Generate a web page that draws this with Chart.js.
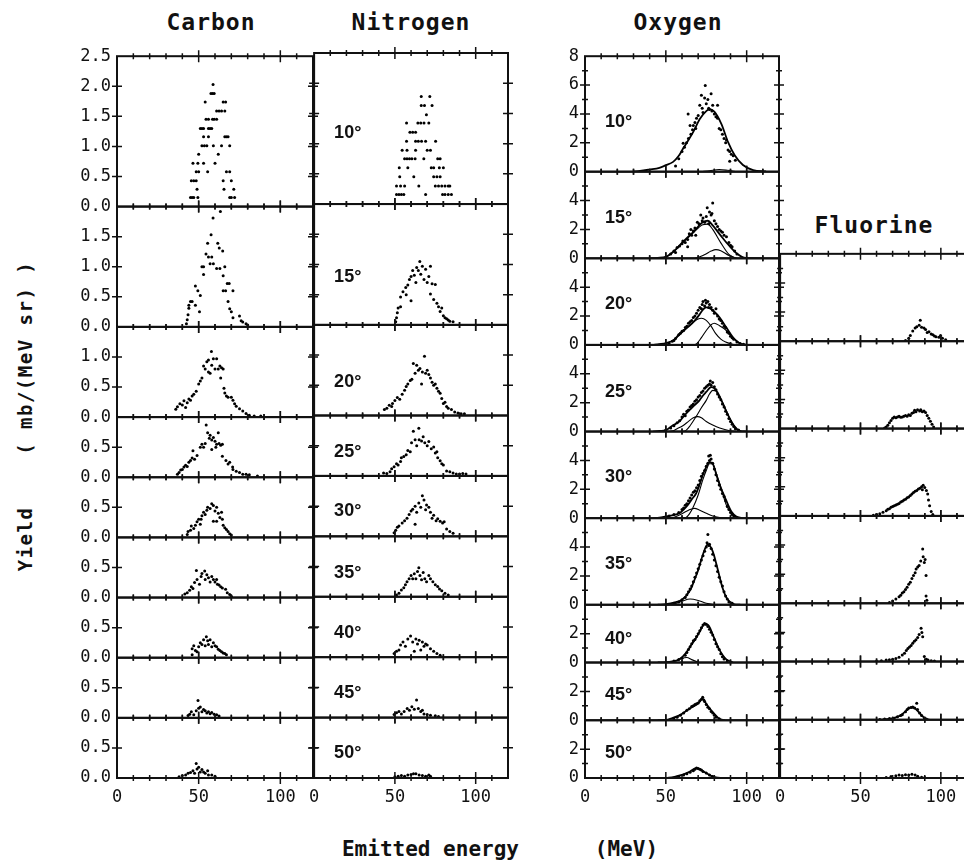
<!DOCTYPE html>
<html>
<head>
<meta charset="utf-8">
<script src="https://cdn.jsdelivr.net/npm/chart.js@4.4.1/dist/chart.umd.min.js"></script>
<style>
  body { margin: 0; width: 964px; height: 865px; overflow: hidden; background: #fff; position: relative; }
  .box { position: absolute; }
  .label { position: absolute; font: bold 23px "DejaVu Sans Mono", monospace; color: #111; white-space: pre; text-align: center; line-height: 26px; letter-spacing: 1px; }
</style>
</head>
<body>
<div class="label" style="left:111px; top:9px; width:200px;">Carbon</div>
<div class="label" style="left:311px; top:9px; width:200px;">Nitrogen</div>
<div class="label" style="left:578px; top:9px; width:200px;">Oxygen</div>
<div class="label" style="left:774px; top:212px; width:200px;">Fluorine</div>
<div class="label" style="left:-175px; top:403px; width:400px; font-size:19px; letter-spacing:1.5px; transform:rotate(-90deg);">Yield    ( mb/(MeV sr) )</div>
<div class="label" style="left:290px; top:836px; width:420px; font-size:21px; letter-spacing:0;">Emitted energy      (MeV)</div>

<div class="box" style="left:0; top:40px;"><canvas id="carbon" width="320" height="770"></canvas></div>
<div class="box" style="left:300px; top:40px;"><canvas id="nitrogen" width="220" height="770"></canvas></div>
<div class="box" style="left:530px; top:40px;"><canvas id="oxygen" width="260" height="770"></canvas></div>
<div class="box" style="left:766px; top:240px;"><canvas id="fluorine" width="220" height="570"></canvas></div>

<script>
// --- Datos: [energía MeV, rendimiento mb/(MeV sr)] ---
const angles = ['10°', '15°', '20°', '25°', '30°', '35°', '40°', '45°', '50°'];
const carbonMax = [2.5, 2, 1.5, 1, 1, 1, 1, 1, 1];
const nitrogenMax = [2.5, 2, 1.5, 1, 1, 1, 1, 1, 1];
const oxygenMax = [8, 6, 6, 6, 6, 6, 4, 4, 4];
const fluorineMax = [6, 6, 6, 6, 4, 4, 4];
const xTicks = [0, 50, 100];

const carbon10 = [[45,0.15],[46,0.15],[47,0.15],[49.5,0.15],[69,0.15],[70,0.15],[72,0.15],[49,0.29],[65.5,0.29],[71.5,0.29],
  [45.5,0.43],[47,0.43],[48.5,0.43],[65,0.43],[70,0.43],[48.5,0.58],[50,0.58],[55.5,0.58],[67,0.58],[69,0.58],
  [46.5,0.72],[49.5,0.72],[53,0.72],[60,0.72],[50,0.87],[62,0.87],[52,1.01],[53.5,1.01],[55,1.01],[59,1.01],[64,1.01],[69,1.01],
  [53,1.16],[56,1.16],[66,1.16],[67,1.16],[68,1.16],[51,1.30],[52,1.30],[53,1.30],[56,1.30],[57,1.30],[58,1.30],
  [54.5,1.45],[56,1.45],[58.5,1.45],[59.5,1.45],[61,1.45],[61,1.59],[62.5,1.59],[64,1.59],[66,1.59],
  [54,1.74],[65,1.74],[66.5,1.74],[57.5,1.88],[58.5,1.88],[59.5,1.88],[58.8,2.03]];
const carbon15 = [[42.5,0.05],[43,0.12],[43.5,0.2],[44,0.31],[44,0.36],[45,0.42],[46,0.42],[48,0.36],[48,0.68],[49.5,0.6],[50.5,0.25],
  [51,0.52],[52,1.0],[53,1.0],[53,0.87],[54.5,1.21],[55.5,1.39],[56,1.16],[57,1.05],[57.6,1.53],[58,1.16],[58.8,1.81],[59,1.05],
  [61,0.97],[61.7,1.39],[62.6,1.31],[63.3,1.92],[63,0.97],[64.7,1.26],[65,0.85],[65,0.6],[66,1.0],[66.5,0.6],[67.5,0.72],[68,0.42],
  [68.7,0.72],[69,0.3],[70,0.25],[71,0.6],[71,0.15],[75,0.18],[76,0.1],[77,0.08],[79,0.05],[80,0.03]];
const carbon20 = [[36,0.13],[37,0.17],[38.5,0.22],[40,0.2],[41,0.27],[42,0.16],[43,0.24],[44,0.3],[45,0.28],[46,0.35],[47,0.38],
  [48.5,0.43],[50,0.55],[51,0.6],[52,0.65],[53,0.85],[54,0.8],[55,0.92],[56,0.95],[56,0.75],[57,0.73],[57.8,1.09],[58,0.86],
  [59,0.97],[60,0.8],[61,0.97],[62,0.8],[63,0.85],[63.5,0.65],[64,0.82],[65,0.8],[65.5,0.48],[66,0.4],[67,0.35],[68,0.33],
  [70,0.33],[71,0.28],[72,0.22],[73,0.18],[75,0.14],[77,0.1],[79,0.06],[81,0.03],[84,0.02],[88,0.02]];
const carbon25 = [[37,0.05],[38,0.08],[39,0.12],[40,0.13],[41,0.17],[42,0.2],[43,0.18],[44,0.25],[45,0.28],[46,0.32],[46.5,0.44],
  [47.5,0.3],[49,0.36],[51,0.5],[52,0.55],[53,0.5],[54,0.56],[54.6,0.87],[55.5,0.74],[56.5,0.65],[57,0.7],[58,0.62],[58,0.46],
  [59,0.66],[60,0.6],[60.5,0.5],[61,0.55],[62,0.74],[62.5,0.56],[63.5,0.53],[64.5,0.55],[64.5,0.35],[66.7,0.28],[68,0.22],
  [69,0.25],[70.8,0.17],[71,0.13],[73,0.1],[75,0.08],[77,0.05],[79,0.05],[81,0.04],[86,0.02]];
const carbon30 = [[43,0.05],[43.5,0.1],[45,0.12],[45.5,0.19],[47,0.15],[48,0.2],[49,0.26],[50,0.3],[51,0.22],[51.5,0.3],[52,0.36],
  [53,0.42],[54,0.38],[55,0.45],[55.5,0.5],[57,0.48],[58,0.56],[59,0.53],[59,0.27],[60,0.44],[61,0.5],[61,0.27],[62,0.4],
  [63,0.33],[64,0.42],[64.5,0.3],[65,0.2],[66,0.16],[67,0.13],[68,0.1],[69,0.06],[70,0.04]];
const carbon35 = [[41.5,0.06],[43,0.08],[44.5,0.12],[45.5,0.18],[46.5,0.15],[47.5,0.25],[48.6,0.45],[49,0.3],[50.5,0.22],[51.5,0.35],
  [52,0.4],[53.7,0.44],[54,0.3],[55,0.38],[56,0.33],[57,0.26],[58,0.35],[59,0.3],[60,0.26],[61,0.3],[61.5,0.22],[62.5,0.21],
  [63.5,0.18],[64.5,0.16],[66.5,0.14],[67.5,0.08],[69,0.05],[70,0.02]];
const carbon40 = [[46,0.05],[46,0.15],[47,0.2],[48,0.12],[49,0.1],[50,0.18],[51,0.25],[52,0.22],[53,0.3],[54,0.2],[54.7,0.35],
  [55.5,0.28],[56,0.22],[57,0.3],[58,0.18],[59,0.25],[60,0.2],[61,0.18],[62,0.14],[63,0.12],[64,0.1],[65,0.08],[66,0.07],[67,0.05]];
const carbon45 = [[43.5,0.04],[44.5,0.06],[45.5,0.1],[47,0.05],[48.5,0.12],[49.6,0.29],[50,0.16],[51,0.18],[52,0.1],[53,0.14],
  [54,0.12],[55,0.08],[56,0.1],[57,0.07],[58,0.09],[59.5,0.06],[61,0.05],[62.5,0.03]];
const carbon50 = [[38,0.02],[40,0.04],[42,0.05],[43.5,0.08],[45,0.09],[46.5,0.12],[47.5,0.08],[48.5,0.24],[49,0.15],[50,0.18],
  [51,0.1],[52,0.14],[53,0.1],[54,0.08],[55.5,0.12],[56,0.05],[58,0.05],[60,0.03]];

const nitrogen10 = [[51,0.16],[52.5,0.16],[54,0.16],[55.5,0.16],[69,0.16],[79.5,0.16],[81,0.16],[83,0.16],[85,0.16],
  [51,0.3],[53.5,0.3],[56,0.3],[64.8,0.3],[75,0.3],[77,0.3],[79,0.3],[81,0.3],[83,0.3],[84,0.3],
  [53,0.45],[61.7,0.45],[74,0.45],[76,0.45],[78,0.45],[52.7,0.6],[58,0.6],[72.5,0.6],[74,0.6],[77.5,0.6],[80,0.6],
  [56,0.75],[57.5,0.75],[59,0.75],[60.5,0.75],[62.5,0.75],[67.9,0.75],[76.5,0.75],[78,0.75],
  [54.5,0.89],[57.5,0.89],[62.8,0.89],[70,0.89],[72,0.89],[57.2,1.04],[62.8,1.04],[64.5,1.04],[66.5,1.04],[69,1.04],[75.2,1.04],
  [59.3,1.19],[61,1.19],[62.8,1.19],[57.2,1.34],[64.2,1.34],[66,1.34],[68,1.34],[71,1.34],[69.5,1.48],
  [66.3,1.63],[68.3,1.63],[73,1.63],[66.3,1.78],[71.6,1.78]];
const nitrogen15 = [[50.5,0.05],[51,0.12],[51.5,0.2],[52,0.28],[53.5,0.3],[53.5,0.46],[55,0.55],[56.7,0.62],[57,0.5],[58,0.66],
  [59,0.75],[60,0.4],[60,0.8],[61,0.9],[62,0.82],[63,0.7],[63.5,0.95],[64.5,0.9],[65.4,1.05],[66,0.84],[67,0.97],[68,0.75],
  [69,0.92],[70,0.7],[71,0.8],[72,0.97],[72,0.51],[73,0.68],[74,0.42],[75,0.67],[76,0.36],[77,0.3],[78,0.22],[79,0.28],
  [80,0.15],[81,0.12],[82,0.1],[83,0.08],[84,0.06],[86,0.05]];
const nitrogen20 = [[43.5,0.1],[45,0.12],[46.5,0.17],[48,0.15],[48.5,0.2],[50,0.25],[51.5,0.3],[53,0.27],[54.5,0.35],[56,0.42],
  [57,0.48],[58,0.52],[59.5,0.58],[60.5,0.6],[61.4,0.86],[62.5,0.7],[63.5,0.83],[64.5,0.75],[65.5,0.78],[66.5,0.52],[67,0.72],
  [68.3,0.98],[69,0.7],[70,0.75],[71,0.68],[72,0.62],[73,0.55],[74,0.5],[75,0.52],[76,0.45],[77,0.4],[78,0.37],[79,0.28],
  [80,0.2],[81,0.22],[82,0.15],[83,0.12],[85,0.1],[87,0.06],[89,0.04],[91,0.03],[93,0.03]];
const nitrogen25 = [[43,0.05],[45,0.04],[47,0.07],[48,0.12],[49.5,0.15],[51,0.2],[52,0.18],[53.5,0.24],[54,0.3],[55.5,0.32],
  [57,0.35],[58,0.42],[59.5,0.4],[60.3,0.55],[61.4,0.74],[62.5,0.6],[63.5,0.5],[64.8,0.79],[65,0.6],[66.5,0.58],[67.5,0.65],
  [68.5,0.55],[70,0.5],[71,0.57],[72.5,0.45],[74,0.48],[75,0.38],[76,0.4],[76.5,0.3],[78,0.25],[79,0.2],[80,0.18],[82,0.08],
  [84,0.07],[86,0.05],[88,0.03],[90,0.03],[92,0.04],[94,0.03]];
const nitrogen30 = [[49.5,0.06],[50.5,0.1],[51.5,0.15],[52.5,0.17],[54.5,0.22],[56,0.26],[57.5,0.3],[58.8,0.36],[60,0.42],[61,0.45],
  [62.5,0.2],[62.5,0.5],[63.5,0.4],[64.8,0.55],[66,0.48],[67,0.67],[68,0.6],[69,0.44],[69.6,0.52],[71,0.48],[72,0.4],[73,0.3],
  [74,0.35],[75.5,0.26],[76.5,0.29],[78,0.25],[79.5,0.22],[80.5,0.24],[82,0.12],[84,0.08],[86,0.05]];
const nitrogen35 = [[51,0.03],[52.5,0.06],[54,0.11],[55.5,0.15],[56.5,0.2],[57.5,0.25],[58.8,0.3],[60,0.35],[61,0.3],[62,0.38],
  [63,0.3],[64,0.42],[64.8,0.48],[65.5,0.35],[66.5,0.28],[67.5,0.4],[68.5,0.3],[69.6,0.25],[71,0.35],[72,0.3],[73.5,0.25],
  [75,0.2],[76.5,0.17],[77.6,0.13],[79,0.1],[81,0.06],[83,0.03]];
const nitrogen40 = [[49.5,0.06],[51,0.1],[52.5,0.12],[53.5,0.2],[55,0.25],[56.5,0.18],[58,0.3],[59.7,0.35],[61,0.25],[62,0.1],
  [63,0.3],[64,0.22],[65,0.28],[66,0.12],[67,0.25],[68,0.18],[69,0.22],[70,0.2],[72,0.14],[74,0.1],[76,0.06],[78,0.03]];
const nitrogen45 = [[49.5,0.05],[51,0.08],[52.5,0.1],[54,0.06],[55.7,0.1],[57.6,0.15],[59,0.12],[60.5,0.18],[62,0.14],[63.4,0.29],
  [64.5,0.15],[66,0.1],[67,0.12],[68,0.06],[70,0.05],[72,0.04],[75,0.03],[77,0.02]];
const nitrogen50 = [[50,0.02],[52,0.03],[54,0.04],[56,0.03],[58,0.05],[60,0.06],[61.5,0.07],[63,0.07],[65,0.05],[67,0.04],
  [69,0.03],[71,0.05],[72,0.03]];

const oxygen10 = [[56,0.4],[58,0.9],[60,1.4],[60.7,1.97],[61.5,1.7],[62.8,2.0],[63.8,3.99],[64,2.3],[65,3.2],[65.5,2.6],[66.5,2.9],
  [67,3.2],[68,3.4],[68.5,3.0],[69,3.7],[70,3.9],[71,4.6],[72,5.3],[72.5,4.4],[73,4.1],[74,5.1],[74.4,5.97],[75,4.7],[76,5.0],
  [76.5,4.4],[77,4.3],[78,5.4],[78.5,4.2],[79,4.6],[80,4.0],[81,3.8],[82,4.6],[82,3.7],[83,3.0],[84,2.9],[85,2.6],[86,2.3],
  [87,2.0],[87.5,2.2],[88.5,1.5],[89.5,1.4],[89.5,0.73],[90.5,1.2],[91.7,1.1],[93,0.8]];
const oxygen10Fit = [[30,0.02],[34,0.05],[40,0.15],[46,0.27],[50,0.45],[54.5,0.68],[58,1.1],[60.7,1.6],[64,2.2],[66.9,2.74],[71,3.65],
  [75,4.2],[77,4.33],[80,4.16],[84.4,3.3],[88.5,2.05],[92.6,1.14],[97.7,0.46],[104,0.11],[112,0.02]];
const oxygen10Low = [[72,0],[77,0.06],[83,0.15],[88,0.1],[94,0]];

const oxygen15 = [[53,0.3],[55,0.5],[56,0.4],[57,0.75],[58.5,0.85],[60,1.0],[60.5,1.2],[62,1.1],[63.5,0.8],[63.5,1.3],[64.5,1.7],
  [65.5,2.0],[66,1.6],[67,1.9],[68,2.1],[68.5,1.6],[69.5,2.5],[70.5,2.4],[71.6,3.0],[72.5,2.6],[73,2.8],[74,2.5],[75,2.9],
  [75.6,3.5],[76.5,2.4],[77,3.2],[78,3.0],[78.5,3.1],[79,3.83],[80,2.6],[81,2.4],[82,2.2],[83,2.0],[84,1.9],[85,1.8],[86,1.6],
  [87.5,1.5],[89,1.1],[90,0.9],[91,0.8],[92.6,0.5],[94,0.3]];
const oxygen15Fit = [[40,0],[45,0.03],[50,0.1],[54,0.4],[58.4,0.87],[62,1.3],[66.6,1.78],[70,2.2],[72.8,2.49],[75.9,2.6],[79,2.28],
  [84,1.57],[89.2,0.87],[94.3,0.3],[99.4,0.03],[110,0]];
const oxygen15A = [[45,0.02],[50,0.08],[54,0.38],[58.4,0.83],[62,1.25],[66.6,1.72],[70,2.1],[72.8,2.33],[75.9,2.37],[79,2.0],
  [84,1.07],[89,0.27],[93,0.02]];
const oxygen15B = [[68,0],[71,0.1],[74.8,0.3],[78,0.5],[81,0.6],[84,0.53],[89,0.2],[94,0]];

const oxygen20 = [[50,0.05],[52,0.1],[54,0.25],[55,0.3],[56,0.45],[58,0.7],[59,0.8],[60,0.95],[61,1.0],[62,1.2],[63,1.3],[64,1.5],
  [65,1.6],[66,1.7],[67,1.9],[68,2.0],[69,2.2],[70,2.4],[71,2.6],[72,2.5],[72.5,2.8],[73,3.0],[74,2.7],[74.5,3.1],[75,2.9],
  [76,3.0],[76.5,2.6],[77,2.8],[78,2.6],[79,2.4],[80,2.2],[81,2.5],[82,2.0],[83,1.8],[84,1.7],[85,1.5],[86,1.3],[87,1.2],
  [88,0.9],[89,0.8],[90,0.6],[91,0.5],[92,0.4],[94,0.2],[96,0.1],[98,0.05]];
const oxygen20Fit = [[42,0],[46,0.05],[50,0.12],[55,0.35],[58.4,0.76],[61,1.0],[64.6,1.32],[68,1.7],[70.8,2.1],[73,2.45],[75,2.6],
  [77,2.55],[80,2.3],[83.3,1.9],[87.4,1.21],[91.5,0.53],[95.6,0.11],[100,0.01]];
const oxygen20A = [[44,0.02],[50,0.1],[55,0.35],[60,0.85],[65,1.4],[70,1.8],[72,1.85],[75,1.7],[78,1.3],[81,0.76],[84,0.4],
  [87,0.2],[92,0.02]];
const oxygen20B = [[66,0],[68.6,0.05],[72,0.5],[75,1.0],[78,1.4],[80,1.5],[83,1.35],[87.4,1.0],[90,0.65],[93.6,0.3],[96.7,0.05],[100,0]];

const oxygen25 = [[50,0.1],[53,0.25],[55,0.4],[57,0.6],[58.5,0.75],[60,1.0],[61,1.2],[62,1.1],[63,1.4],[64,1.5],[65,1.7],[66,1.8],
  [67,1.9],[68,2.1],[69,2.2],[70,2.4],[71,2.5],[72,2.7],[73,2.8],[74,3.0],[75,3.1],[76,3.2],[77,3.3],[77.5,3.5],[78,3.2],
  [79,3.4],[80,3.1],[81,2.9],[82,2.6],[83,2.4],[84,2.2],[85,1.9],[86,1.7],[87,1.4],[88,1.2],[89,0.9],[90,0.7],[91,0.5],
  [92,0.35],[93,0.2],[95,0.1]];
const oxygen25Fit = [[42,0],[46,0.04],[50,0.1],[54,0.4],[58.4,0.7],[61,1.05],[64.6,1.48],[68,1.85],[70.8,2.16],[73,2.5],[75,2.74],
  [78,3.08],[80,3.0],[82,2.7],[84.4,2.16],[88.5,1.14],[92.6,0.34],[95.6,0.05],[100,0]];
const oxygen25A = [[48,0],[54.3,0.05],[57,0.2],[60.5,0.4],[64,0.7],[67,0.95],[69.7,1.03],[72,0.95],[75,0.7],[79,0.45],[83.3,0.24],
  [89.5,0.05],[94,0]];
const oxygen25B = [[60,0],[62.5,0.08],[65,0.4],[68.7,1.03],[72,1.65],[75,2.16],[77,2.6],[79,2.85],[81,2.8],[83,2.4],[85.4,1.94],
  [89.5,0.9],[93.6,0.2],[96.7,0.02]];

const oxygen30 = [[52,0.15],[55,0.25],[58,0.4],[60,0.6],[61,0.7],[62,0.9],[63,1.0],[64,1.2],[65,1.4],[66,1.6],[67,1.8],[68,1.9],
  [69,2.1],[70,2.3],[71,2.6],[72,2.9],[73,3.1],[74,3.3],[75,3.6],[76,3.8],[76.5,4.3],[77,4.0],[77.5,4.35],[78,4.1],[79,3.8],
  [80,3.4],[81,3.0],[82,2.6],[83,2.3],[84,2.0],[85,1.7],[86,1.5],[87,1.2],[88,0.8],[89,0.6],[90,0.4],[91,0.25],[92,0.15]];
const oxygen30Fit = [[42,0],[46,0.04],[50,0.12],[54,0.2],[58.4,0.34],[61,0.6],[63.5,0.9],[66,1.3],[68.7,1.71],[70.8,2.3],[72.8,2.97],
  [75,3.55],[77,3.88],[79,3.77],[82,2.74],[84,2.1],[86.4,1.48],[90.5,0.46],[93.6,0.12],[97,0.01]];
const oxygen30A = [[48,0.01],[54.3,0.05],[58,0.2],[60.5,0.34],[64,0.55],[67.7,0.68],[71,0.55],[75,0.34],[79,0.15],[83.3,0.05],[88,0]];
const oxygen30B = [[60,0],[62.5,0.05],[64.6,0.3],[66.6,0.68],[70,1.6],[72.8,2.63],[75,3.3],[77,3.77],[79,3.77],[81,3.15],[83.3,2.4],
  [87.4,0.91],[91.5,0.23],[94.6,0.02]];

const oxygen35 = [[55,0.1],[58,0.2],[60,0.35],[62,0.5],[63,0.7],[64,0.9],[65,1.1],[66,1.3],[67,1.6],[68,1.9],[69,2.2],[70,2.5],
  [71,2.8],[72,3.1],[73,3.4],[74,3.7],[75,4.0],[75.5,4.3],[76,4.86],[76.5,4.1],[77,4.2],[78,3.9],[79,3.5],[80,3.1],[81,2.7],
  [82,2.3],[83,1.9],[84,1.6],[85,1.3],[86,0.9],[87,0.6],[88,0.4],[89,0.2],[91,0.1]];
const oxygen35Fit = [[45,0],[50,0.05],[55,0.15],[60,0.35],[65,1.0],[68,1.8],[70,2.4],[73,3.5],[76,4.2],[79,3.7],[82,2.5],[85,1.2],
  [88,0.4],[92,0.05],[96,0]];
const oxygen35A = [[52,0],[55,0.05],[60,0.25],[65,0.4],[70,0.3],[75,0.1],[80,0.02],[84,0]];

const oxygen40 = [[55,0.1],[58,0.2],[60,0.3],[62,0.5],[63,0.7],[64,0.9],[65,1.1],[66,1.3],[67,1.5],[68,1.6],[69,1.8],[70,2.0],
  [71,2.2],[72,2.4],[73,2.6],[74,2.7],[75,2.65],[76,2.5],[77,2.3],[78,2.1],[79,1.9],[80,1.6],[81,1.3],[82,1.1],[83,0.9],
  [84,0.6],[85,0.4],[86,0.25],[88,0.1]];
const oxygen40Fit = [[45,0],[50,0.02],[54,0.08],[58.4,0.22],[62.5,0.68],[65,1.1],[68.7,1.7],[71,2.15],[73.8,2.63],[75.9,2.63],
  [79,1.94],[83,0.91],[87.4,0.22],[91.5,0.02]];
const oxygen40A = [[52,0],[56,0.1],[60,0.3],[63,0.35],[66,0.2],[70,0.02]];

const oxygen45 = [[55,0.1],[57,0.2],[59,0.35],[61,0.5],[63,0.7],[64.5,0.8],[66,0.95],[67,1.0],[68,1.1],[69,1.15],[70,1.2],[71,1.35],
  [72,1.45],[72.8,1.6],[73.5,1.4],[74,1.3],[75,1.1],[76,0.9],[77,0.8],[78,0.6],[79,0.5],[80,0.35],[81,0.2],[83,0.1]];
const oxygen45Fit = [[45,0],[50,0.02],[54,0.15],[58.4,0.34],[64.6,0.8],[69.7,1.14],[72.8,1.48],[75,1.14],[79,0.57],[83,0.11],[86.4,0.01]];

const oxygen50 = [[58,0.1],[61,0.2],[63,0.3],[65,0.4],[67,0.5],[68,0.6],[69,0.7],[70,0.65],[71,0.6],[72,0.55],[73,0.45],[75,0.35],
  [77,0.2],[79,0.1]];
const oxygen50Fit = [[48,0],[52,0.02],[56,0.1],[60.5,0.23],[65,0.45],[68.7,0.68],[70.8,0.61],[75,0.34],[78,0.15],[81,0.05],[85,0]];

const fluorine20 = [[78,0.05],[80,0.2],[81,0.4],[82.5,0.7],[84,0.9],[85,1.0],[86.5,1.1],[87.2,1.44],[88,0.95],[89.5,0.9],[90.5,0.8],
  [91.5,0.6],[92.6,0.65],[94,0.5],[95,0.45],[96,0.35],[97,0.3],[98.8,0.27],[99.8,0.4],[101,0.2],[103,0.1]];
const fluorine25 = [[65,0.03],[66,0.1],[67,0.23],[68,0.4],[69,0.55],[70,0.7],[71,0.8],[72,0.75],[73,0.8],[74,0.85],[75,0.78],
  [76,0.8],[77,0.85],[78,0.9],[79,0.85],[80,0.95],[81,0.9],[82,1.05],[83,1.1],[83.7,1.25],[84.5,1.15],[85.5,1.3],[86.8,1.2],
  [87.5,1.3],[88.5,1.15],[89.5,1.2],[90.5,1.1],[91.5,0.9],[92.5,0.7],[93.5,0.5],[94.5,0.3],[95.5,0.1]];
const fluorine30 = [[58,0.05],[60,0.1],[62,0.15],[64,0.25],[66,0.35],[67,0.45],[68,0.5],[69,0.6],[70,0.65],[71,0.7],[72,0.75],
  [73,0.8],[74,0.85],[75,0.95],[76,1.0],[77,1.1],[78,1.15],[79,1.25],[80,1.3],[81,1.4],[82,1.5],[83,1.6],[84,1.7],[85,1.75],
  [86,1.85],[87,1.9],[88,2.0],[88.5,1.8],[89,2.1],[90,1.95],[91,1.75],[91.8,1.5],[92.3,1.1],[93,0.7],[94,0.3],[95,0.1]];
const fluorine35 = [[68,0.05],[70,0.15],[72,0.3],[74,0.45],[75,0.55],[76,0.7],[77,0.8],[78,0.95],[79,1.1],[80,1.3],[81,1.45],
  [82,1.7],[83,1.9],[84,2.1],[84.6,2.35],[85.6,2.5],[86.5,2.6],[87.5,2.9],[88.7,3.72],[89,3.2],[89.7,2.8],[90.2,3.0],[90.8,1.9],
  [90.8,0.5],[91.3,0.2]];
const fluorine40 = [[60,0.02],[63,0.05],[66,0.1],[68,0.12],[70,0.15],[72,0.2],[74,0.3],[76,0.45],[77.4,0.57],[78.5,0.75],[79.5,0.9],
  [80.5,1.0],[81.5,1.1],[82.5,1.25],[83.5,1.4],[84.5,1.5],[85.6,1.65],[86.5,1.85],[87.7,2.28],[88.2,2.0],[88.7,1.7],[89.7,0.34],
  [91,0.15],[92,0.1],[94,0.05],[96,0.03]];
const fluorine45 = [[62,0.02],[65,0.05],[68,0.08],[70.8,0.11],[73,0.2],[75,0.3],[76,0.35],[78,0.55],[79,0.7],[80,0.8],[81.5,0.85],
  [82.5,0.88],[83.7,0.8],[85,1.14],[85.5,0.7],[86.8,0.46],[88,0.3],[89.9,0.11],[91,0.05]];
const fluorine45Fit = [[62,0],[70,0.1],[75,0.3],[79,0.68],[81.5,0.86],[83.7,0.8],[86.8,0.46],[89.9,0.11],[93,0]];
const fluorine50 = [[66,0.03],[69,0.1],[72,0.15],[74,0.2],[76,0.18],[78,0.22],[80,0.2],[82,0.25],[84,0.2],[85.6,0.12],[88,0.05],[90,0.03]];

// --- Posición vertical de las etiquetas de ángulo (fracción de la altura del panel) ---
const nitrogenLabelPos = [0.47, 0.4, 0.37, 0.4, 0.42, 0.4, 0.4, 0.41, 0.41];
const oxygenLabelPos = [0.43, 0.47, 0.47, 0.46, 0.48, 0.47, 0.4, 0.43, 0.43];

const INK = '#111';
const tickFont = { family: '"DejaVu Sans Mono", monospace', size: 17 };

function toXY(pairs) {
  return pairs.map(p => ({ x: p[0], y: p[1] }));
}

// Dibuja marcos, marcas cruzadas y etiquetas de ángulo para cada panel apilado
const panelFrame = {
  id: 'panelFrame',
  afterDatasetsDraw(chart, args, opts) {
    const ctx = chart.ctx;
    const area = chart.chartArea;
    const xs = chart.scales.x;
    ctx.save();
    ctx.strokeStyle = INK;
    ctx.fillStyle = INK;
    opts.rows.forEach((max, i) => {
      const ys = chart.scales['y' + i];
      ctx.lineWidth = 2;
      ctx.strokeRect(area.left, ys.top, area.right - area.left, ys.bottom - ys.top);
      ctx.lineWidth = 1.5;
      ctx.beginPath();
      for (let e = 10; e < 120; e += 10) {
        const px = xs.getPixelForValue(e);
        const len = e % 50 === 0 ? 6 : 3;
        [ys.top, ys.bottom].forEach(py => { ctx.moveTo(px, py - len); ctx.lineTo(px, py + len); });
      }
      for (let k = 1; k * opts.minor < max - 1e-6; k++) {
        const v = k * opts.minor;
        const py = ys.getPixelForValue(v);
        const major = Math.abs(v / opts.step - Math.round(v / opts.step)) < 1e-6;
        const len = major ? 5 : 3;
        [area.left, area.right].forEach(px => { ctx.moveTo(px - len, py); ctx.lineTo(px + len, py); });
      }
      ctx.stroke();
      if (opts.labels) {
        ctx.font = 'bold 18px "Liberation Sans", Arial, sans-serif';
        ctx.textBaseline = 'middle';
        ctx.textAlign = 'left';
        ctx.fillText(opts.labels[i], area.left + 20, ys.getPixelForValue(max * opts.labelPos[i]));
      }
    });
    ctx.restore();
  }
};

function makeColumn(canvasId, cfg) {
  const scales = {
    x: {
      type: 'linear', min: 0, max: 120,
      grid: { display: false, drawTicks: false }, border: { display: false },
      afterBuildTicks: s => { s.ticks = xTicks.map(v => ({ value: v })); },
      afterFit: s => { s.height = 32; },
      ticks: { font: tickFont, color: INK, padding: 9, maxRotation: 0, autoSkip: false }
    }
  };
  const datasets = [];
  cfg.rows.forEach((max, i) => {
    scales['y' + i] = {
      type: 'linear', position: 'left', stack: 'rows', stackWeight: max, weight: cfg.rows.length - i,
      min: 0, max: max, offset: false,
      grid: { display: false, drawTicks: false }, border: { display: false },
      afterBuildTicks: s => {
        const t = [];
        for (let k = 0; k * cfg.step <= max + 1e-9; k++) t.push({ value: k * cfg.step });
        s.ticks = t;
      },
      afterFit: s => { s.width = cfg.axisWidth; },
      ticks: {
        display: cfg.showY, font: tickFont, color: INK, padding: 6, autoSkip: false,
        callback: v => (i > 0 && Math.abs(v - max) < 1e-9) ? '' : v.toFixed(cfg.decimals)
      }
    };
    datasets.push({
      data: toXY(cfg.points[i]), yAxisID: 'y' + i, showLine: false,
      pointRadius: 1.5, pointBorderWidth: 0, pointBackgroundColor: '#000'
    });
    (cfg.curves ? cfg.curves[i] : []).forEach((c, j) => {
      datasets.push({
        data: toXY(c), yAxisID: 'y' + i, showLine: true, pointRadius: 0,
        borderColor: '#000', borderWidth: j === 0 ? 1.8 : 1.1, cubicInterpolationMode: 'monotone'
      });
    });
  });
  return new Chart(document.getElementById(canvasId), {
    type: 'scatter',
    data: { datasets: datasets },
    options: {
      responsive: false, animation: false,
      layout: { padding: cfg.padding },
      scales: scales,
      plugins: {
        legend: { display: false }, tooltip: { enabled: false },
        panelFrame: { rows: cfg.rows, step: cfg.step, minor: cfg.minor, labels: cfg.labels, labelPos: cfg.labelPos }
      }
    },
    plugins: [panelFrame]
  });
}

makeColumn('carbon', {
  rows: carbonMax, step: 0.5, minor: 0.5, decimals: 1, axisWidth: 117, showY: true,
  padding: { top: 13, right: 7, bottom: 0, left: 0 },
  points: [carbon10, carbon15, carbon20, carbon25, carbon30, carbon35, carbon40, carbon45, carbon50]
});
makeColumn('nitrogen', {
  rows: nitrogenMax, step: 0.5, minor: 0.5, decimals: 1, axisWidth: 13, showY: false,
  padding: { top: 13, right: 12, bottom: 0, left: 0 },
  labels: angles, labelPos: nitrogenLabelPos,
  points: [nitrogen10, nitrogen15, nitrogen20, nitrogen25, nitrogen30, nitrogen35, nitrogen40, nitrogen45, nitrogen50]
});
makeColumn('oxygen', {
  rows: oxygenMax, step: 2, minor: 1, decimals: 0, axisWidth: 55, showY: true,
  padding: { top: 10, right: 11, bottom: 0, left: 0 },
  labels: angles, labelPos: oxygenLabelPos,
  points: [oxygen10, oxygen15, oxygen20, oxygen25, oxygen30, oxygen35, oxygen40, oxygen45, oxygen50],
  curves: [
    [oxygen10Fit, oxygen10Low], [oxygen15Fit, oxygen15A, oxygen15B], [oxygen20Fit, oxygen20A, oxygen20B],
    [oxygen25Fit, oxygen25A, oxygen25B], [oxygen30Fit, oxygen30A, oxygen30B], [oxygen35Fit, oxygen35A],
    [oxygen40Fit, oxygen40A], [oxygen45Fit], [oxygen50Fit]
  ]
});
makeColumn('fluorine', {
  rows: fluorineMax, step: 2, minor: 1, decimals: 0, axisWidth: 13, showY: false,
  padding: { top: 13.84, right: 13, bottom: 0, left: 0 },
  points: [fluorine20, fluorine25, fluorine30, fluorine35, fluorine40, fluorine45, fluorine50],
  curves: [[], [], [], [], [], [fluorine45Fit], []]
});
</script>
</body>
</html>
